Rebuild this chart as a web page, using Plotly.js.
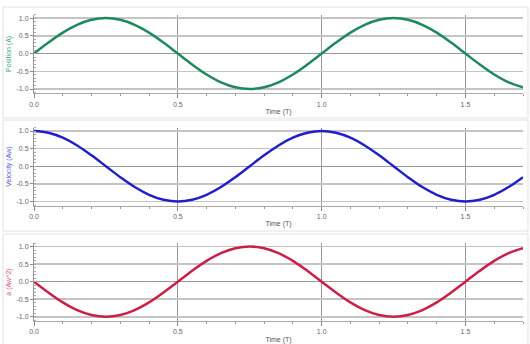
<!DOCTYPE html>
<html>
<head>
<meta charset="utf-8">
<script src="https://cdn.plot.ly/plotly-3.0.1.min.js"></script>
<style>html,body{margin:0;padding:0;background:#fff;}#chart{width:530px;height:344px;}</style>
</head>
<body>
<div id="chart"></div>
<script>
// Time in periods (T)
var time = [0,0.05,0.10,0.15,0.20,0.25,0.30,0.35,0.40,0.45,0.50,0.55,0.60,0.65,0.70,0.75,0.80,0.85,0.90,0.95,1.00,1.05,1.10,1.15,1.20,1.25,1.30,1.35,1.40,1.45,1.50,1.55,1.60,1.65,1.70];
// Position in units of A
var position = [0,0.31,0.59,0.81,0.95,1.00,0.95,0.81,0.59,0.31,0,-0.31,-0.59,-0.81,-0.95,-1.00,-0.95,-0.81,-0.59,-0.31,0,0.31,0.59,0.81,0.95,1.00,0.95,0.81,0.59,0.31,0,-0.31,-0.59,-0.81,-0.95];
// Velocity in units of Aw
var velocity = [1.00,0.95,0.81,0.59,0.31,0,-0.31,-0.59,-0.81,-0.95,-1.00,-0.95,-0.81,-0.59,-0.31,0,0.31,0.59,0.81,0.95,1.00,0.95,0.81,0.59,0.31,0,-0.31,-0.59,-0.81,-0.95,-1.00,-0.95,-0.81,-0.59,-0.31];
// Acceleration in units of Aw^2
var accel = [0,-0.31,-0.59,-0.81,-0.95,-1.00,-0.95,-0.81,-0.59,-0.31,0,0.31,0.59,0.81,0.95,1.00,0.95,0.81,0.59,0.31,0,-0.31,-0.59,-0.81,-0.95,-1.00,-0.95,-0.81,-0.59,-0.31,0,0.31,0.59,0.81,0.95];

var yTickVals = [-1,-0.5,0,0.5,1];
var yTickText = ["-1.0","-0.5","0.0","0.5","1.0"];
var xTickVals = [0,0.5,1.0,1.5];
var xTickText = ["0.0","0.5","1.0","1.5"];

var panelTitles = ["Position (A)","Velocity (Aw)","a (Aw^2)"];
var lineColors = ["#1e8a5c","#2020c8","#cc1f48"];
var titleColors = ["#3aa37c","#5a5ad8","#d6557a"];
var series = [position, velocity, accel];

var H = 344, W = 530;
var plotTops = [14.5, 127.5, 243];
var plotBots = [93.3, 205.7, 321];
var boxes = [[7,118],[120,231],[234,346]];

var data = [];
var layout = {
  width: W, height: H,
  margin: {l:0, r:0, t:0, b:0},
  paper_bgcolor: "#ffffff",
  plot_bgcolor: "rgba(0,0,0,0)",
  showlegend: false,
  shapes: []
};

for (var i = 0; i < 3; i++) {
  var sfx = i === 0 ? "" : String(i + 1);
  data.push({
    x: time, y: series[i], type: "scatter", mode: "lines",
    xaxis: "x" + sfx, yaxis: "y" + sfx,
    line: {color: lineColors[i], width: 2.5, shape: "spline", smoothing: 1},
    hoverinfo: "skip"
  });
  layout["xaxis" + sfx] = {
    domain: [34 / W, 523 / W],
    range: [0, 1.7],
    anchor: "y" + sfx,
    tickvals: xTickVals, ticktext: xTickText,
    ticks: "outside", ticklen: 4, tickcolor: "#888",
    showgrid: true, gridcolor: "#999", gridwidth: 1,
    zeroline: false,
    showline: true, linecolor: "#aaa", linewidth: 1,
    minor: {dtick: 0.1, ticks: "outside", ticklen: 2, tickcolor: "#999", showgrid: false},
    tickfont: {family: "Arial, Liberation Sans, sans-serif", size: 7, color: "#666"},
    title: {text: "Time (T)", font: {family: "Arial, Liberation Sans, sans-serif", size: 7, color: "#555"}, standoff: 2},
    fixedrange: true
  };
  layout["yaxis" + sfx] = {
    domain: [1 - plotBots[i] / H, 1 - plotTops[i] / H],
    range: [-1.12, 1.1],
    anchor: "x" + sfx,
    tickvals: yTickVals, ticktext: yTickText,
    ticks: "outside", ticklen: 3, tickcolor: "#888",
    showgrid: true, gridcolor: "#c4c4c4", gridwidth: 1.5,
    zeroline: true, zerolinecolor: "#999", zerolinewidth: 1.5,
    showline: true, linecolor: "#999", linewidth: 1,
    minor: {dtick: 0.1, ticks: "inside", ticklen: 2, tickcolor: "#aaa", showgrid: false},
    tickfont: {family: "Arial, Liberation Sans, sans-serif", size: 7, color: "#666"},
    title: {text: panelTitles[i], font: {family: "Arial, Liberation Sans, sans-serif", size: 7, color: titleColors[i]}, standoff: 4},
    fixedrange: true
  };
  layout.shapes.push({
    type: "rect", xref: "paper", yref: "paper", layer: "below",
    x0: 3 / W, x1: 528 / W,
    y0: 1 - boxes[i][1] / H, y1: 1 - boxes[i][0] / H,
    line: {color: "#e2e2e2", width: 1}, fillcolor: "rgba(0,0,0,0)"
  });
}

Plotly.newPlot("chart", data, layout, {staticPlot: true, displayModeBar: false});
</script>
</body>
</html>
